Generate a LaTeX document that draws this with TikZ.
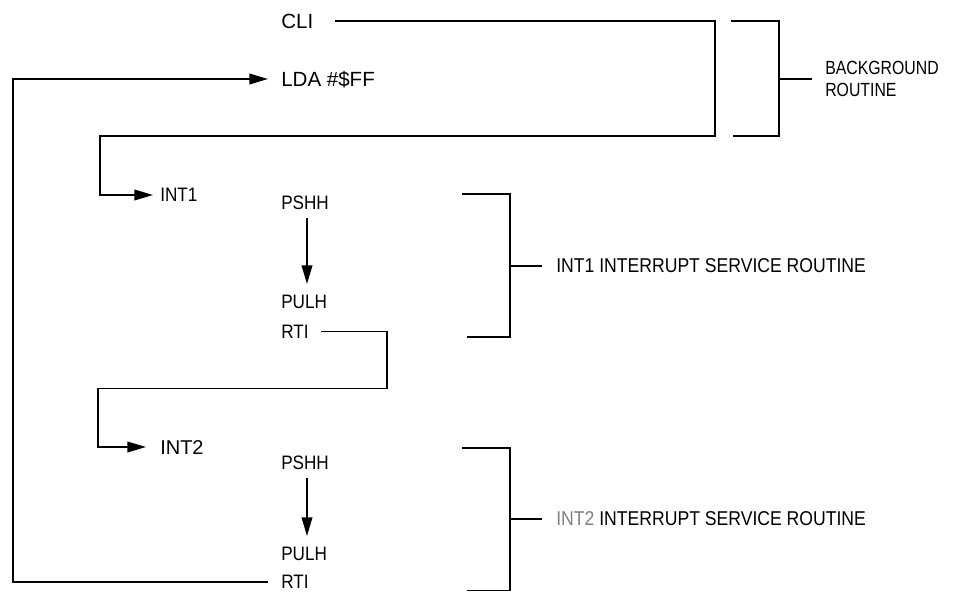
\documentclass[tikz,border=0pt]{standalone}
\usepackage{fontspec}
\setmainfont{Liberation Sans}
\newfontfamily\narrowfont[FakeStretch=0.88]{Liberation Sans}
\newfontfamily\narrowerfont[FakeStretch=0.83]{Liberation Sans}
\usetikzlibrary{arrows.meta,calc}
\begin{document}
\begin{tikzpicture}[x=0.75pt,y=-0.75pt,
  wire/.style={draw=black,line width=1.2pt,line join=miter},
  arr/.style={wire,-{Triangle[length=14pt,width=8pt]}},
  wide/.style={inner sep=0pt,anchor=west,text height=10.6pt,text depth=0pt,font=\fontsize{15.4pt}{17pt}\selectfont},
  nar/.style={inner sep=0pt,anchor=west,text height=10.4pt,text depth=0pt,font=\narrowfont\fontsize{14.6pt}{17pt}\selectfont},
  lab/.style={inner sep=0pt,anchor=west,align=left,text height=10.4pt,text depth=0pt,font=\narrowfont\fontsize{15pt}{17pt}\selectfont},
  bglab/.style={inner sep=0pt,anchor=west,align=left,font=\narrowerfont\fontsize{14.3pt}{16.5pt}\selectfont}]
\useasboundingbox (0,0) rectangle (964,592);
% instructions
\node[wide] (cli) at (281,21) {CLI};
\node[wide] (lda) at (281,79) {LDA \#\$FF};
\node[nar] (int1) at (160,195) {INT1};
\node[nar] (pshh1) at (281,203) {PSHH};
\node[nar] (pulh1) at (281,302) {PULH};
\node[nar] (rti1) at (281,331.5) {RTI};
\node[wide,font=\fontsize{15pt}{17pt}\selectfont] (int2) at (160,447) {INT2};
\node[nar] (pshh2) at (281,462.5) {PSHH};
\node[nar] (pulh2) at (281,554) {PULH};
\node[nar] (rti2) at (281,582) {RTI};
% labels
\node[bglab] (bglab) at (825,79) {BACKGROUND\\ROUTINE};
\node[lab] (isr1) at (556,266) {INT1 INTERRUPT SERVICE ROUTINE};
\coordinate (isr2w) at (556,519);
% corner coordinates
\coordinate (c1) at (715,21);
\coordinate (c2) at (100,136);
\coordinate (c3) at (386.7,331.5);
\coordinate (c4) at (97.7,388.3);
\coordinate (c5) at (13,79);
% flow connectors
\draw[arr] ($(cli.east)+(22,0)$) -- (c1) |- (c2) |- ($(int1.west)+(-7,0)$);
\draw[arr] ($(rti1.east)+(12,0)$) -- (c3) |- (c4) |- ($(int2.west)+(-14,0)$);
\draw[arr] ($(rti2.west)+(-13,0)$) -| (c5) -- ($(lda.west)+(-13,0)$);
\draw[arr] ($(pshh1.west)+(26,15)$) -- ($(pulh1.west)+(26,-18)$);
\draw[arr] ($(pshh2.west)+(26,15)$) -- ($(pulh2.west)+(26,-18)$);
% brackets
\draw[wire] (731,21) -- (779,21) -- (779,136) -- (733,136);
\draw[wire] (bglab.west -| 779,0) -- ($(bglab.west)+(-13,0)$);
\draw[wire] (462,194) -- (510,194) -- (510,337) -- (467,337);
\draw[wire] ($(isr1.west)+(-46,0)$) -- ($(isr1.west)+(-14,0)$);
\draw[wire] (462,447.7) -- (510,447.7) -- (510,590.5) -- (467,590.5);
\draw[wire] ($(isr2w)+(-46,0)$) -- ($(isr2w)+(-14,0)$);
\node[lab] (isr2) at (isr2w) {{\color{black!50}INT2} INTERRUPT SERVICE ROUTINE};
\end{tikzpicture}
\end{document}
